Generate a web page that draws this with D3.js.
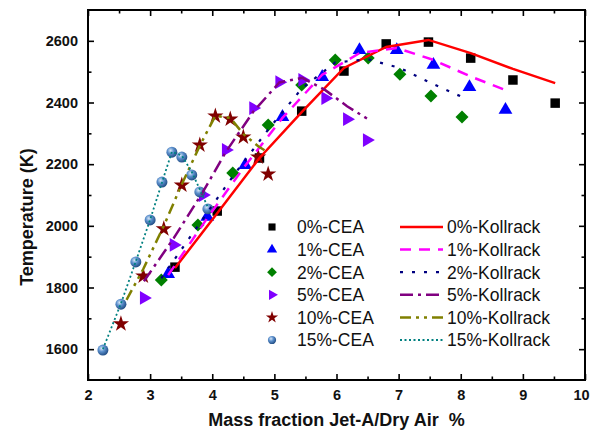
<!DOCTYPE html>
<html>
<head>
<meta charset="utf-8">
<script src="https://cdn.jsdelivr.net/npm/d3@7"></script>
<style>
  body { margin: 0; background: #fff; }
  svg { display: block; font-family: "Liberation Sans", Arial, sans-serif; }
</style>
</head>
<body>
<div id="chart"></div>
<script>
// values
var cea0X = [3.40, 4.08, 4.76, 5.44, 6.12, 6.80, 7.48, 8.16, 8.84, 9.52];
var cea0Y = [1866, 2048, 2220, 2372, 2502, 2590, 2596, 2544, 2473, 2398];
var kol0Y = [1863, 2041, 2220, 2369, 2512, 2580, 2603, 2560, 2509, 2463];

var cea1X = [3.29, 3.92, 4.53, 5.13, 5.77, 6.37, 6.97, 7.56, 8.14, 8.72];
var cea1Y = [1844, 2029, 2197, 2353, 2483, 2570, 2570, 2522, 2450, 2376];
var kol1Y = [1840, 2025, 2195, 2350, 2490, 2560, 2577, 2538, 2486, 2440];

var cea2X = [3.18, 3.77, 4.33, 4.90, 5.44, 5.98, 6.51, 7.02, 7.52, 8.02];
var cea2Y = [1824, 2003, 2171, 2327, 2457, 2538, 2544, 2492, 2421, 2353];
var kol2Y = [1830, 2000, 2160, 2312, 2445, 2530, 2540, 2512, 2463, 2418];

var cea5X = [2.90, 3.38, 3.85, 4.22, 4.66, 5.08, 5.45, 5.82, 6.17, 6.49];
var cea5Y = [1766, 1938, 2100, 2246, 2382, 2466, 2473, 2414, 2346, 2278];
var kol5Y = [1820, 1960, 2110, 2240, 2370, 2465, 2480, 2440, 2388, 2348];

var cea10X = [2.53, 2.89, 3.22, 3.51, 3.80, 4.05, 4.29, 4.50, 4.74, 4.90];
var cea10Y = [1682, 1837, 1990, 2132, 2262, 2356, 2346, 2288, 2223, 2168];
var kol10X = [2.62, 2.89, 3.22, 3.51, 3.80, 4.05, 4.29, 4.50, 4.74, 4.90];
var kol10Y = [1760, 1860, 2000, 2135, 2260, 2357, 2350, 2298, 2258, 2238];

var cea15X = [2.24, 2.53, 2.77, 3.00, 3.19, 3.35, 3.51, 3.67, 3.80, 3.93];
var cea15Y = [1597, 1746, 1883, 2019, 2142, 2239, 2223, 2165, 2110, 2055];
var kol15Y = [1600, 1748, 1885, 2020, 2140, 2240, 2228, 2175, 2118, 2060];

var xTicks = [2, 3, 4, 5, 6, 7, 8, 9, 10];
var yTicks = [1600, 1800, 2000, 2200, 2400, 2600];

var width = 592, height = 434;
var pLeft = 88, pRight = 585, pTop = 10, pBottom = 380;

var svg = d3.select("#chart").append("svg")
    .attr("width", width)
    .attr("height", height);

var defs = svg.append("defs");
var grad = defs.append("radialGradient").attr("id", "ball")
    .attr("cx", "38%").attr("cy", "35%").attr("r", "65%");
grad.append("stop").attr("offset", "0%").attr("stop-color", "#d6e6f7");
grad.append("stop").attr("offset", "45%").attr("stop-color", "#5b8fcc");
grad.append("stop").attr("offset", "100%").attr("stop-color", "#234f86");

var x = d3.scaleLinear().domain([2, 10]).range([pLeft, pRight]);
var y = d3.scaleLinear().domain([1500, 2700]).range([pBottom, pTop]);

function zip(xs, ys) { return xs.map(function (v, i) { return [v, ys[i]]; }); }

// series: markers (CEA) and lines (Kollrack)
var cea = [
    { name: "0%-CEA", pts: zip(cea0X, cea0Y), color: "#000000", shape: "square" },
    { name: "1%-CEA", pts: zip(cea1X, cea1Y), color: "#0000ff", shape: "triangle" },
    { name: "2%-CEA", pts: zip(cea2X, cea2Y), color: "#008000", shape: "diamond" },
    { name: "5%-CEA", pts: zip(cea5X, cea5Y), color: "#8000ff", shape: "right" },
    { name: "10%-CEA", pts: zip(cea10X, cea10Y), color: "#800000", shape: "star" },
    { name: "15%-CEA", pts: zip(cea15X, cea15Y), color: "url(#ball)", shape: "circle" }
];
var kol = [
    { name: "0%-Kollrack", pts: zip(cea0X, kol0Y), color: "#ff0000", w: 2.5, dash: null },
    { name: "1%-Kollrack", pts: zip(cea1X, kol1Y), color: "#ff00ff", w: 2.5, dash: "11,8" },
    { name: "2%-Kollrack", pts: zip(cea2X, kol2Y), color: "#000080", w: 2.2, dash: "3,9" },
    { name: "5%-Kollrack", pts: zip(cea5X, kol5Y), color: "#800080", w: 2.5, dash: "13,5,3,5" },
    { name: "10%-Kollrack", pts: zip(kol10X, kol10Y), color: "#808000", w: 2.5, dash: "11,5,3,5,3,5" },
    { name: "15%-Kollrack", pts: zip(cea15X, kol15Y), color: "#008080", w: 1.8, dash: "2,2.5" }
];

function markerPath(shape) {
    if (shape === "square") return d3.symbol(d3.symbolSquare, 90)();
    if (shape === "triangle" || shape === "right") return d3.symbol(d3.symbolTriangle, 82)();
    if (shape === "star") return d3.symbol(d3.symbolStar, 82)();
    if (shape === "circle") return d3.symbol(d3.symbolCircle, 95)();
    // diamond: square turned 45 degrees
    return "M0,-6.5L6.5,0L0,6.5L-6.5,0Z";
}
function markerRotate(shape) { return shape === "right" ? " rotate(90)" : ""; }

var plot = svg.append("g");

cea.forEach(function (s) {
    plot.selectAll(null)
        .data(s.pts)
        .enter()
        .append("path")
        .attr("d", markerPath(s.shape))
        .attr("transform", function (d) { return "translate(" + x(d[0]) + "," + y(d[1]) + ")" + markerRotate(s.shape); })
        .attr("fill", s.color);
});

var line = d3.line().x(function (d) { return x(d[0]); }).y(function (d) { return y(d[1]); });

kol.forEach(function (s) {
    plot.append("path")
        .datum(s.pts)
        .attr("d", line)
        .attr("fill", "none")
        .attr("stroke", s.color)
        .attr("stroke-width", s.w)
        .attr("stroke-dasharray", s.dash);
});

// axes, ticks pointing inward on all four sides
var xMinor = d3.range(2.5, 10, 1);
var yMinor = [1700, 1900, 2100, 2300, 2500];

function styleAxis(g) {
    g.select(".domain").remove();
    g.selectAll("line").attr("stroke", "#000").attr("stroke-width", 1.6);
    g.selectAll("text").attr("font-weight", "bold").attr("font-size", "14.5px").attr("fill", "#111");
}

var xAxisG = svg.append("g").attr("transform", "translate(0," + pBottom + ")")
    .call(d3.axisBottom(x).tickValues(xTicks).tickSizeInner(-6).tickSizeOuter(0).tickPadding(10).tickFormat(d3.format("d")))
    .call(styleAxis);
// keep the last label inside the page
xAxisG.selectAll(".tick text").filter(function (d) { return d === 10; }).attr("dx", "-4");

svg.append("g").attr("transform", "translate(0," + pBottom + ")")
    .call(d3.axisBottom(x).tickValues(xMinor).tickSize(-3.5).tickFormat(""))
    .call(styleAxis);
svg.append("g").attr("transform", "translate(0," + pTop + ")")
    .call(d3.axisTop(x).tickValues(xTicks).tickSize(-6).tickFormat(""))
    .call(styleAxis);
svg.append("g").attr("transform", "translate(0," + pTop + ")")
    .call(d3.axisTop(x).tickValues(xMinor).tickSize(-3.5).tickFormat(""))
    .call(styleAxis);

svg.append("g").attr("transform", "translate(" + pLeft + ",0)")
    .call(d3.axisLeft(y).tickValues(yTicks).tickSizeInner(-6).tickSizeOuter(0).tickPadding(10).tickFormat(d3.format("d")))
    .call(styleAxis);
svg.append("g").attr("transform", "translate(" + pLeft + ",0)")
    .call(d3.axisLeft(y).tickValues(yMinor).tickSize(-3.5).tickFormat(""))
    .call(styleAxis);
svg.append("g").attr("transform", "translate(" + pRight + ",0)")
    .call(d3.axisRight(y).tickValues(yTicks).tickSize(-6).tickFormat(""))
    .call(styleAxis);
svg.append("g").attr("transform", "translate(" + pRight + ",0)")
    .call(d3.axisRight(y).tickValues(yMinor).tickSize(-3.5).tickFormat(""))
    .call(styleAxis);

// frame
svg.append("rect")
    .attr("x", pLeft).attr("y", pTop)
    .attr("width", pRight - pLeft).attr("height", pBottom - pTop)
    .attr("fill", "none").attr("stroke", "#000").attr("stroke-width", 2);

// axis titles
svg.append("text")
    .attr("x", (pLeft + pRight) / 2).attr("y", 426)
    .attr("text-anchor", "middle")
    .style("white-space", "pre")
    .attr("font-weight", "bold").attr("font-size", "18px").attr("fill", "#111")
    .text("Mass fraction Jet-A/Dry Air  %");
svg.append("text")
    .attr("transform", "translate(33," + ((pTop + pBottom) / 2 + 22) + ") rotate(-90)")
    .attr("text-anchor", "middle")
    .attr("font-weight", "bold").attr("font-size", "18px").attr("fill", "#111")
    .text("Temperature (K)");

// legend
var legY = 227, legStep = 22.6;
var leg = svg.append("g");
cea.forEach(function (s, i) {
    var yy = legY + i * legStep;
    leg.append("path")
        .attr("d", markerPath(s.shape))
        .attr("transform", "translate(272," + yy + ")" + markerRotate(s.shape) + " scale(0.75)")
        .attr("fill", s.color);
    leg.append("text")
        .attr("x", 297).attr("y", yy).attr("dy", "0.36em")
        .attr("font-size", "17.5px").attr("fill", "#111")
        .text(s.name);
});
kol.forEach(function (s, i) {
    var yy = legY + i * legStep;
    leg.append("line")
        .attr("x1", 400).attr("x2", 443).attr("y1", yy).attr("y2", yy)
        .attr("stroke", s.color)
        .attr("stroke-width", s.w)
        .attr("stroke-dasharray", s.dash);
    leg.append("text")
        .attr("x", 447).attr("y", yy).attr("dy", "0.36em")
        .attr("font-size", "17.5px").attr("fill", "#111")
        .text(s.name);
});
</script>
</body>
</html>
